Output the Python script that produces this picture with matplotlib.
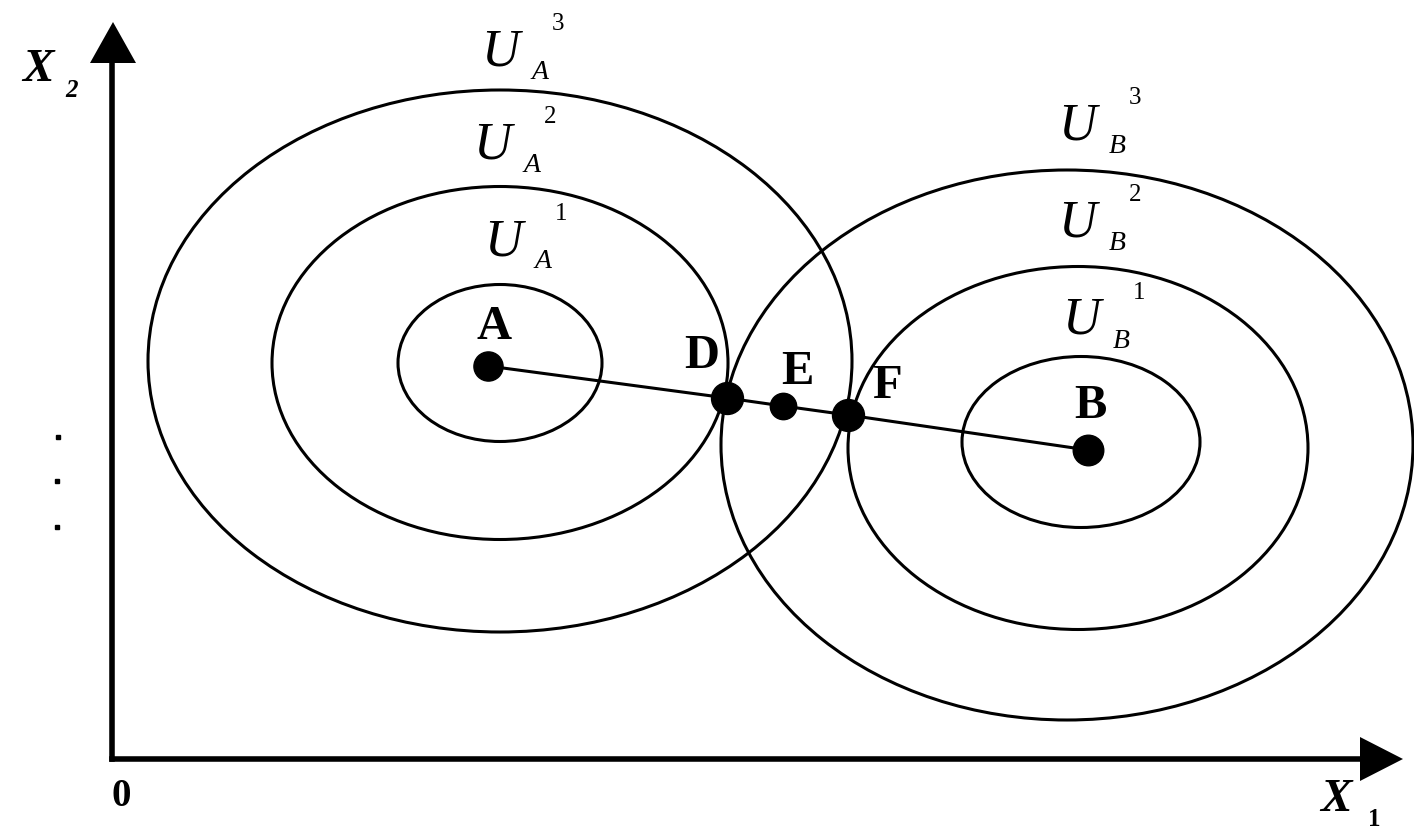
import matplotlib.pyplot as plt
from matplotlib.patches import Ellipse, Polygon

# rings around A and B (pixel-like coordinates, y down)
ring_cx = [500, 500, 500, 1081, 1078, 1067]
ring_cy = [363, 363, 361, 442, 448, 445]
ring_w = [204, 456, 704, 238, 460, 692]
ring_h = [157, 353, 542, 171, 363, 550]

# points on the line A -> B
pt_names = ['A', 'D', 'E', 'F', 'B']
pt_x = [488, 727, 783, 848, 1088]
pt_y = [366, 398, 406, 415, 450]
pt_size = [21, 23, 19, 23, 22]
lbl_x = [494, 702, 797, 887, 1090]
lbl_y = [327, 356, 372, 386, 406]

# ring labels
u_x = [500, 492, 503, 1077, 1077, 1081]
u_y = [52, 145, 242, 126, 223, 321]
u_sub = ['A', 'A', 'A', 'B', 'B', 'B']
u_sup = ['3', '2', '1', '3', '2', '1']

# stray marks on the left of the y axis
dot_x = [58, 57, 57]
dot_y = [437, 481, 527]

fig = plt.figure(figsize=(14.14, 8.34), dpi=100)
ax = fig.add_axes([0, 0, 1, 1])
ax.set_xlim(0, 1414)
ax.set_ylim(834, 0)
ax.axis('off')

for cx, cy, w, h in zip(ring_cx, ring_cy, ring_w, ring_h):
    ax.add_patch(Ellipse((cx, cy), w, h, fill=False, ec='black', lw=2.2))

# axes
ox, oy = 112, 759
ax.plot([ox, ox], [oy, 55], color='black', lw=4)
ax.plot([ox, 1365], [oy, oy], color='black', lw=4)
ax.add_patch(Polygon([[90, 63], [136, 63], [113, 22]], closed=True, fc='black'))
ax.add_patch(Polygon([[1360, 737], [1360, 781], [1403, 759]], closed=True, fc='black'))
ax.plot(dot_x, dot_y, 's', color='black', ms=3)

serif = 'Liberation Serif'
ax.text(38, 70, 'X', fontsize=34, family=serif, weight='bold', style='italic', ha='center', va='center')
ax.text(72, 90, '2', fontsize=18, family=serif, weight='bold', style='italic', ha='center', va='center')
ax.text(1336, 800, 'X', fontsize=34, family=serif, weight='bold', style='italic', ha='center', va='center')
ax.text(1374, 820, '1', fontsize=18, family=serif, weight='bold', ha='center', va='center')
ax.text(121, 796, '0', fontsize=28, family=serif, weight='bold', ha='center', va='center')

# line A-B and points
ax.plot(pt_x, pt_y, color='black', lw=2.2)
for x, y, s in zip(pt_x, pt_y, pt_size):
    ax.plot(x, y, 'o', color='black', ms=s)
for n, x, y in zip(pt_names, lbl_x, lbl_y):
    ax.text(x, y, n, fontsize=35, family=serif, weight='bold', ha='center', va='center')

for x, y, sb, sp in zip(u_x, u_y, u_sub, u_sup):
    ax.text(x, y, 'U', fontsize=38, family=serif, style='italic', ha='center', va='center')
    ax.text(x + 40, y + 20, sb, fontsize=20, family=serif, style='italic', ha='center', va='center')
    ax.text(x + 58, y - 28, sp, fontsize=18, family=serif, ha='center', va='center')

fig.savefig('out.png', dpi=100, facecolor='white')
